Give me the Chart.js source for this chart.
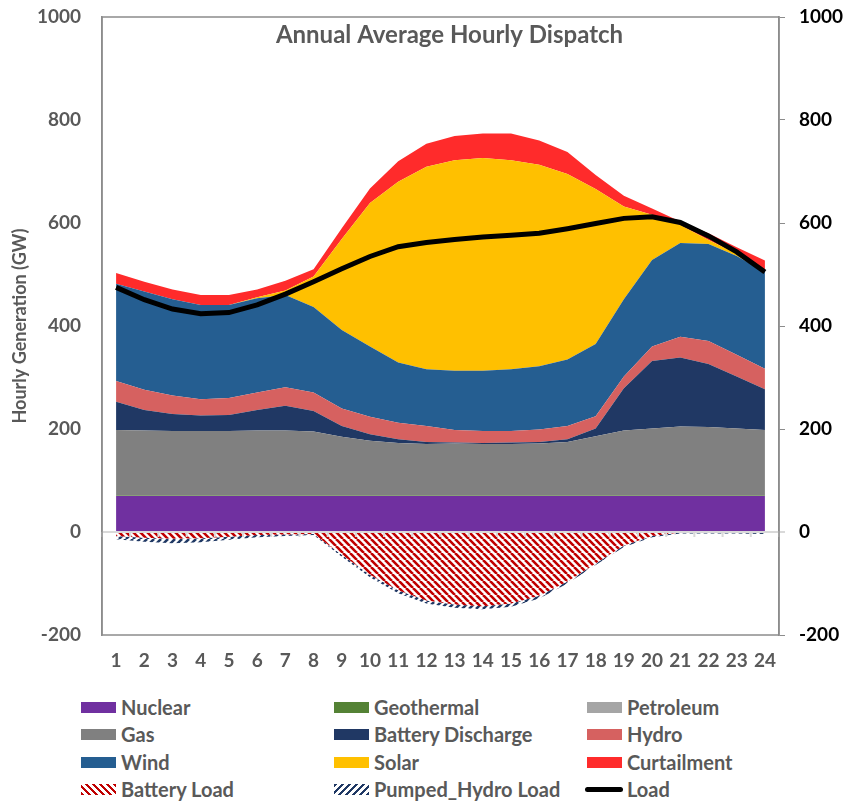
<!DOCTYPE html>
<html lang="en">
<head>
<meta charset="UTF-8">
<title>Annual Average Hourly Dispatch</title>
<script src="https://cdn.jsdelivr.net/npm/chart.js"></script>
<style>
  body { margin: 0; background: #fff; font-family: Lato, "Open Sans", sans-serif; }
  .chart-root { position: relative; width: 844px; height: 801px; overflow: hidden; }
  #dispatchChart { position: absolute; left: 0; top: 0; }
  .legend-item { position: absolute; display: flex; align-items: center; height: 24px; font-weight: bold; font-size: 20px; color: #595959; white-space: nowrap; }
  .legend-swatch { width: 35px; height: 11px; margin-right: 5px; }
  .legend-line { width: 38px; height: 5px; border-radius: 3px; margin-left: -2px; margin-right: 4px; background: #000; }
</style>
</head>
<body>
<div class="chart-root">
  <canvas id="dispatchChart" width="844" height="690"></canvas>
  <div id="legend"></div>
</div>
<script>
// hours of the day
const hours = ['1','2','3','4','5','6','7','8','9','10','11','12','13','14','15','16','17','18','19','20','21','22','23','24'];

// generation (GW), stacked bottom to top
const nuclear = [70,70,70,70,70,70,70,70,70,70,70,70,70,70,70,70,70,70,70,70,70,70,70,70];
const geothermal = [1,1,1,1,1,1,1,1,1,1,1,1,1,1,1,1,1,1,1,1,1,1,1,1];
const petroleum = [0,0,0,0,0,0,0,0,0,0,0,0,0,0,0,0,0,0,0,0,0,0,0,0];
const gas = [127,126,125,125,125,126,126,124,114,106,102,100,101,100,100,101,104,115,126,130,134,133,130,127];
const batteryDischarge = [55,40,33,30,31,40,48,40,21,13,7,4,2,2,3,3,5,15,82,131,134,122,101,79];
const hydro = [40,39,36,32,33,34,36,36,34,34,32,31,24,23,22,24,26,24,23,28,40,45,42,40];
const wind = [189,191,187,183,181,183,179,166,152,136,117,110,115,117,120,123,129,140,150,168,182,188,192,188];
const solar = [0,0,0,0,0,2,9,59,177,279,351,393,409,413,406,391,360,301,180,88,35,8,5,0];
const curtailment = [21,19,19,19,19,15,19,14,21,28,40,45,47,48,52,47,43,27,21,12,7,13,12,22];

// storage charging (negative)
const batteryLoad = [-8,-11,-13,-12,-9,-6,-5,-4,-44,-83,-113,-133,-141,-144,-139,-124,-96,-61,-26,-8,-1,-1,-2,-2];
const pumpedHydroLoad = [-6,-8,-9,-8,-6,-4,-3,-2,-4,-5,-6,-6,-6,-6,-6,-5,-4,-3,-3,-2,-2,-2,-1,-2];

// system load
const load = [475,451,433,424,426,441,462,486,511,535,554,562,568,573,576,580,589,599,609,612,601,575,544,505];

const yTicks = [-200, 0, 200, 400, 600, 800, 1000];
const chartTitle = 'Annual Average Hourly Dispatch';
const yTitle = 'Hourly Generation (GW)';

const GRAY_TEXT = '#595959';
const FONT = 'Lato';

function makeHatch(color, backslash) {
    const s = 7;
    const c = document.createElement('canvas');
    c.width = s; c.height = s;
    const g = c.getContext('2d');
    g.fillStyle = '#fff';
    g.fillRect(0, 0, s, s);
    g.strokeStyle = color;
    g.lineWidth = 2.6;
    g.beginPath();
    for (let k = -s; k <= s; k += s) {
        if (backslash) { g.moveTo(k, 0); g.lineTo(k + s, s); }
        else { g.moveTo(k, s); g.lineTo(k + s, 0); }
    }
    g.stroke();
    return g.createPattern(c, 'repeat');
}

function area(label, data, color, fill) {
    return {
        label: label, data: data, backgroundColor: color,
        borderColor: 'rgba(0,0,0,0)', borderWidth: 0,
        pointRadius: 0, tension: 0, fill: fill, yAxisID: 'y'
    };
}

const datasets = [
    area('Nuclear', nuclear, '#7030A0', 'origin'),
    area('Geothermal', geothermal, '#548235', '-1'),
    area('Petroleum', petroleum, '#A5A5A5', '-1'),
    area('Gas', gas, '#808080', '-1'),
    area('Battery Discharge', batteryDischarge, '#203864', '-1'),
    area('Hydro', hydro, '#D66160', '-1'),
    area('Wind', wind, '#255E91', '-1'),
    area('Solar', solar, '#FFC000', '-1'),
    area('Curtailment', curtailment, '#FF2B2B', '-1'),
    area('Battery Load', batteryLoad, makeHatch('#C00000', true), 'origin'),
    area('Pumped_Hydro Load', pumpedHydroLoad, makeHatch('#1F3864', false), '-1'),
    {
        label: 'Load', data: load, borderColor: '#000', borderWidth: 5,
        pointRadius: 0, tension: 0, fill: false, yAxisID: 'y1', order: -1
    }
];

// frame, zero line and title drawn inside the plot
const framePlugin = {
    id: 'frame',
    afterDatasetsDraw(chart) {
        const { ctx, chartArea: a, scales } = chart;
        const y0 = scales.y.getPixelForValue(0);
        ctx.save();
        ctx.strokeStyle = '#d9d9d9';
        ctx.lineWidth = 2;
        ctx.beginPath();
        ctx.moveTo(a.left, y0);
        ctx.lineTo(a.right + 6, y0);
        const half = (scales.x.getPixelForValue(1) - scales.x.getPixelForValue(0)) / 2;
        for (let i = 0; i <= hours.length; i++) {
            const x = scales.x.getPixelForValue(i) - half;
            ctx.moveTo(x, y0);
            ctx.lineTo(x, y0 + 5);
        }
        ctx.stroke();
        ctx.strokeStyle = '#8c8c8c';
        ctx.lineWidth = 1.5;
        ctx.strokeRect(a.left, a.top, a.right - a.left, a.bottom - a.top);
        ctx.fillStyle = GRAY_TEXT;
        ctx.font = 'bold 24px ' + FONT;
        ctx.textAlign = 'center';
        ctx.textBaseline = 'middle';
        ctx.fillText(chartTitle, (a.left + a.right) / 2 + 9, a.top + 18);
        ctx.restore();
    }
};

const plainTick = v => String(v);

new Chart(document.getElementById('dispatchChart').getContext('2d'), {
    type: 'line',
    data: { labels: hours, datasets: datasets },
    options: {
        responsive: false,
        animation: false,
        layout: { padding: { top: 17, left: 0, right: 0, bottom: 0 } },
        plugins: { legend: { display: false }, tooltip: { enabled: false } },
        scales: {
            x: {
                offset: true,
                stacked: true,
                grid: { display: false, drawTicks: false },
                border: { display: false },
                ticks: { color: GRAY_TEXT, font: { family: FONT, size: 19, weight: 'bold' }, padding: 14, maxRotation: 0, autoSkip: false },
                afterFit(scale) { scale.height = 55; }
            },
            y: {
                stacked: true,
                min: yTicks[0], max: yTicks[yTicks.length - 1],
                grid: { display: false, drawTicks: false },
                border: { display: true, color: '#8c8c8c', width: 1.5 },
                ticks: { stepSize: 200, color: GRAY_TEXT, font: { family: FONT, size: 19, weight: 'bold' }, padding: 21, callback: plainTick },
                title: { display: true, text: yTitle, color: GRAY_TEXT, font: { family: FONT, size: 18, weight: 'bold' }, padding: { top: 9, bottom: 0 } },
                afterFit(scale) { scale.width = 102; scale.paddingTop = 10; scale.paddingBottom = 10; }
            },
            y1: {
                position: 'right',
                min: yTicks[0], max: yTicks[yTicks.length - 1],
                grid: { display: true, drawOnChartArea: false, drawTicks: true, tickLength: 6, color: '#8c8c8c' },
                border: { display: true, color: '#8c8c8c', width: 1.5 },
                ticks: { stepSize: 200, color: '#000', font: { family: FONT, size: 19, weight: 'bold' }, padding: 14, callback: plainTick },
                afterFit(scale) { scale.width = 65; scale.paddingTop = 10; scale.paddingBottom = 10; }
            }
        }
    },
    plugins: [framePlugin]
});

// legend: three columns, four rows
const legendCols = [81, 334, 587];
const legendRows = [707, 734, 762, 789];
const legendEl = document.getElementById('legend');
const legendOrder = ['Nuclear','Geothermal','Petroleum','Gas','Battery Discharge','Hydro','Wind','Solar','Curtailment','Battery Load','Pumped_Hydro Load','Load'];
legendOrder.forEach((name, i) => {
    const ds = datasets.find(d => d.label === name);
    const item = document.createElement('div');
    item.className = 'legend-item';
    item.style.left = legendCols[i % 3] + 'px';
    item.style.top = (legendRows[Math.floor(i / 3)] - 12) + 'px';
    const sw = document.createElement('span');
    if (name === 'Load') {
        sw.className = 'legend-line';
    } else {
        sw.className = 'legend-swatch';
        if (name === 'Battery Load') sw.style.background = 'repeating-linear-gradient(45deg, #C00000 0 2.5px, #fff 2.5px 5px)';
        else if (name === 'Pumped_Hydro Load') sw.style.background = 'repeating-linear-gradient(-45deg, #1F3864 0 2.5px, #fff 2.5px 5px)';
        else sw.style.background = ds.backgroundColor;
    }
    item.appendChild(sw);
    item.appendChild(document.createTextNode(name));
    legendEl.appendChild(item);
});
</script>
</body>
</html>
